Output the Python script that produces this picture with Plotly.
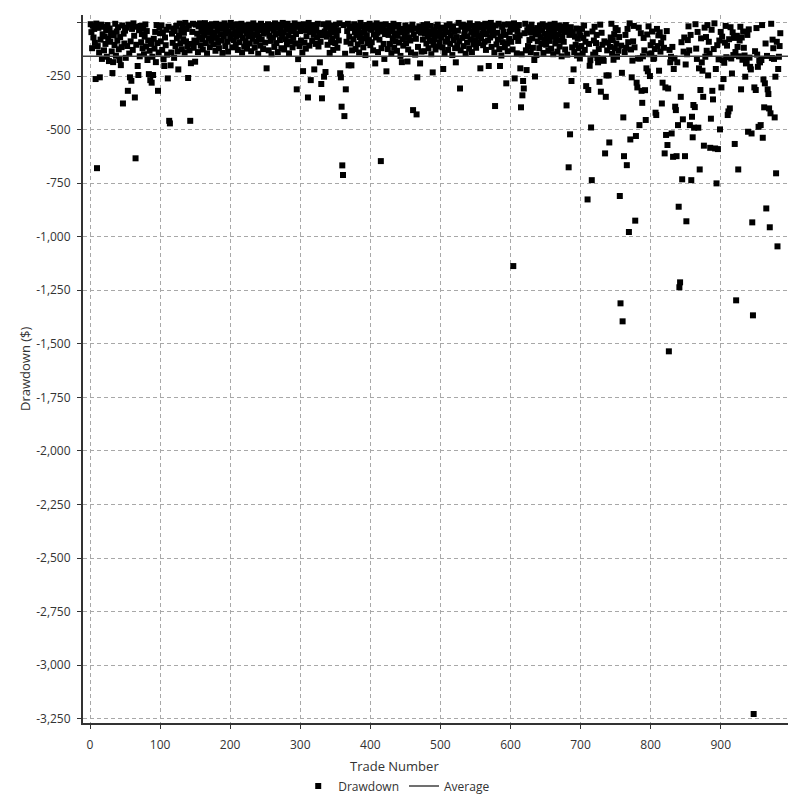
import plotly.graph_objects as go

# Baseline drawdown per trade (trades 1..985), read row by row (25 trades per row)
BAND = [
    -8,-45,-120,-15,-70,-30,-95,-150,-5,-60,-110,-25,-140,-40,-80,-10,-170,-55,-20,-130,-65,-100,-35,-160,-12,
    -75,-180,-28,-90,-50,-135,-18,-185,-60,-105,-6,-155,-42,-85,-22,-125,-175,-68,-32,-115,-14,-190,-52,-98,-38,
    -165,-24,-110,-72,-10,-145,-56,-88,-180,-30,-128,-4,-62,-170,-46,-104,-20,-138,-78,-36,-158,-16,-92,-54,-120,
    -26,-148,-66,-9,-112,-40,-175,-84,-18,-132,-58,-100,-30,-160,-7,-76,-122,-44,-185,-12,-96,-64,-140,-22,-50,
    -88,-14,-128,-46,-172,-3,-70,-106,-34,-150,-60,-20,-118,-82,-8,-140,-52,-95,-28,-165,-40,-110,-16,-74,-135,
    -20,-62,-5,-98,-36,-125,-12,-78,-48,-140,-2,-88,-30,-112,-56,-15,-130,-70,-24,-100,-44,-6,-118,-84,-32,
    -10,-92,-52,-138,-18,-68,-4,-108,-40,-80,-126,-22,-58,-3,-96,-34,-144,-12,-74,-48,-115,-28,-86,-8,-60,
    -102,-16,-46,-132,-6,-72,-38,-94,-120,-26,-56,-10,-84,-142,-30,-64,-4,-110,-50,-18,-90,-136,-42,-14,-76,
    -2,-54,-116,-24,-82,-12,-46,-104,-66,-8,-128,-34,-92,-58,-20,-6,-140,-72,-38,-112,-14,-88,-50,-122,-28,
    -64,-10,-98,-40,-134,-22,-76,-4,-58,-118,-30,-90,-14,-48,-146,-68,-26,-108,-6,-80,-36,-124,-52,-16,-94,
    -18,-106,-44,-8,-130,-62,-28,-86,-148,-12,-70,-38,-114,-4,-56,-96,-24,-138,-50,-10,-82,-32,-120,-66,-2,
    -46,-126,-14,-78,-34,-102,-6,-60,-144,-24,-88,-42,-16,-116,-72,-30,-4,-98,-54,-132,-20,-68,-10,-110,-40,
    -84,-26,-140,-52,-8,-94,-36,-122,-64,-18,-76,-2,-108,-44,-150,-28,-86,-12,-58,-126,-38,-100,-22,-70,-6,
    -112,-48,-16,-90,-30,-136,-60,-8,-80,-42,-120,-20,-66,-104,-4,-54,-142,-34,-92,-14,-74,-128,-46,-24,-96,
    -10,-62,-118,-36,-84,-4,-50,-134,-22,-72,-104,-12,-56,-146,-30,-90,-40,-6,-114,-66,-18,-98,-52,-130,-26,
    -78,-8,-44,-124,-58,-16,-102,-32,-140,-68,-2,-88,-48,-20,-116,-74,-38,-152,-12,-60,-96,-28,-82,-6,-106,
    -34,-92,-14,-130,-56,-24,-110,-70,-4,-48,-138,-30,-80,-10,-64,-120,-42,-18,-100,-146,-54,-8,-86,-36,-124,
    -58,-16,-100,-40,-144,-26,-74,-6,-118,-50,-88,-20,-132,-62,-12,-94,-36,-156,-46,-4,-78,-108,-30,-68,-14,
    -96,-44,-6,-126,-70,-22,-84,-140,-34,-10,-106,-56,-28,-150,-76,-2,-60,-114,-40,-18,-92,-48,-136,-24,-80,
    -12,-134,-52,-30,-98,-8,-66,-120,-42,-86,-16,-148,-58,-4,-104,-36,-78,-126,-20,-62,-10,-112,-46,-94,-28,
    -70,-24,-116,-4,-54,-142,-36,-90,-14,-76,-128,-46,-8,-100,-60,-32,-152,-18,-82,-42,-120,-6,-68,-108,-38,
    -2,-88,-48,-130,-20,-72,-10,-110,-56,-34,-146,-14,-94,-64,-26,-122,-4,-80,-44,-138,-16,-102,-58,-30,-84,
    -118,-40,-8,-96,-62,-22,-136,-74,-12,-50,-106,-32,-90,-6,-128,-54,-18,-84,-150,-38,-70,-2,-114,-46,-26,
    -60,-140,-30,-14,-102,-48,-80,-6,-124,-36,-66,-154,-20,-92,-42,-10,-116,-58,-28,-98,-134,-8,-76,-44,-18,
    -90,-32,-126,-54,-4,-112,-68,-24,-144,-40,-86,-12,-60,-104,-30,-148,-72,-16,-96,-50,-6,-130,-64,-36,-110,
    -22,-82,-46,-138,-10,-74,-118,-34,-2,-94,-56,-152,-26,-88,-44,-120,-14,-68,-100,-38,-8,-142,-78,-52,-16,
    -104,-60,-20,-132,-42,-86,-10,-122,-66,-30,-148,-50,-6,-98,-74,-28,-136,-56,-14,-112,-84,-38,-158,-64,-18,
    -90,-44,-126,-12,-70,-150,-34,-100,-58,-162,-22,-80,-116,-46,-8,-138,-66,-104,-28,-154,-76,-120,-40,-168,-60,
    -110,-30,-146,-72,-14,-128,-90,-160,-52,-24,-136,-100,-8,-176,-64,-118,-42,-150,-84,-20,-140,-96,-58,-166,-34,
    -124,-76,-10,-152,-48,-104,-170,-28,-88,-140,-60,-16,-130,-94,-158,-40,-114,-70,-6,-146,-82,-174,-54,-120,-26,
    -98,-160,-36,-132,-68,-12,-150,-108,-44,-172,-80,-20,-138,-58,-118,-164,-30,-92,-146,-4,-74,-126,-52,-178,-88,
    -16,-116,-62,-154,-38,-100,-168,-24,-84,-142,-50,-112,-8,-158,-72,-130,-34,-96,-176,-56,-120,-18,-148,-66,-106,
    -144,-42,-92,-170,-14,-124,-78,-156,-30,-110,-60,-180,-46,-136,-96,-22,-162,-70,-118,-10,-150,-86,-40,-134,-166,
    -54,-128,-6,-160,-88,-114,-36,-174,-62,-140,-20,-102,-152,-76,-30,-168,-120,-48,-92,-158,-12,-136,-70,-110,-184,
    -40,-148,-82,-18,-130,-164,-58,-104,-26,-176,-96,-142,-64,-8,-122,-170,-44,-88,-154,-32,-116,-74,-186,-52,-138,
    -100,-24,-160,-68,-132,-12,-178,-90,-146,-50,-112,-34,-166,-80,-124,-4,-156,-60,-140,-106,-28,-172,-84,-150,-44,
    -120,-66,-176,-36,-144,-94,-16,-162,-108,-56,-182,-78,-130,-22,-168,-102,-46,-152,-72,-10,-138,-188,-62,-114,-30,
    -158,-84,-20,-136,-70,-174,-42,-118,-154,-8,-96,-180,-58,-126,-32,-164,-110,-48,-146,-76,-14,-170,-92,-134,-52,
    -26,-150,-104,-60,-178,-38,-128,-162,-12,-88,-140,-54,-172,-98,-24,-156,-116,-68,-186,-44,-132,-6,-166,-80,-120,
    -64,-142,-18,-170,-90,-124,-36,-160,-110,-50,-176,-14,-130,-76,-152,-30,-100,-168,-58,-144,-22,-118,-84,-190,-40,
]
N_TRADES = 985

# Deeper drawdowns: trade number -> drawdown ($)
OUTLIER_TRADES = [
    8, 10, 14, 32, 44, 47, 54, 57, 59, 64, 65, 68, 69, 84, 86, 88, 90, 97, 106, 111, 113, 114, 115, 126, 140, 143, 144, 150,
    252, 295, 297, 304, 311, 315, 320, 328, 330, 331, 334, 336, 357, 358, 359, 360, 361, 363, 365, 369, 373,
    407, 415, 420, 423, 445, 453, 461, 466, 467, 471, 489, 504, 522, 528, 557, 569, 578, 585, 594,
    604, 606, 614, 615, 617, 618, 619, 623, 634, 635, 680, 683, 685, 687, 690,
    708, 710, 711, 713, 715, 716, 725, 727, 729, 733, 735, 736, 737, 740, 741, 756, 757, 759, 760, 761, 762, 766, 769,
    771, 773, 778, 779, 780, 781, 784, 785, 787, 788, 792, 793, 794, 796, 799,
    805, 807, 808, 812, 816, 817, 820, 821, 822, 824, 825, 826, 828, 830, 832, 833, 834, 835, 836, 837, 838, 839, 840,
    841, 842, 843, 845, 846, 849, 850, 851, 856, 858, 859, 860, 861, 862, 863, 868, 869, 870, 871, 874, 875, 876,
    882, 885, 886, 888, 889, 892, 893, 894, 896, 899,
    901, 904, 905, 910, 911, 913, 916, 920, 922, 925, 929, 935, 936, 939, 942, 943, 944, 945, 946, 947, 948, 950,
    953, 954, 956, 957, 958, 960, 961, 962, 963, 965, 967, 968, 969, 970, 971, 976, 977, 978, 979, 981, 982,
]
OUTLIER_VALUES = [
    -264, -680, -256, -236, -199, -378, -319, -256, -272, -350, -634, -203, -245, -241, -269, -281, -245, -319, -203, -261, -459, -471, -200, -219, -259, -459, -190, -183,
    -214, -312, -171, -227, -350, -269, -219, -186, -287, -354, -253, -231, -237, -256, -393, -667, -712, -437, -312, -200, -200,
    -191, -647, -170, -228, -185, -182, -409, -429, -256, -191, -233, -217, -186, -308, -214, -203, -390, -203, -284,
    -1137, -261, -214, -396, -340, -273, -308, -222, -175, -252, -387, -676, -522, -273, -219,
    -297, -826, -315, -202, -490, -736, -186, -277, -323, -179, -611, -347, -247, -247, -560, -810, -1311, -235, -1395, -443, -624, -666, -978,
    -546, -256, -925, -530, -281, -303, -479, -168, -319, -375, -316, -455, -214, -228, -250,
    -165, -421, -432, -225, -378, -281, -611, -303, -525, -572, -308, -1535, -186, -518, -627, -217, -168, -393, -409, -624, -186, -479, -860,
    -1236, -1213, -347, -732, -452, -624, -196, -928, -479, -736, -440, -536, -385, -491, -395, -491, -214, -686, -315, -225, -347, -575,
    -247, -585, -449, -319, -359, -588, -217, -751, -591, -499,
    -303, -264, -188, -432, -415, -401, -238, -567, -1297, -686, -312, -253, -191, -510, -207, -219, -518, -933, -1367, -3228, -303, -315,
    -207, -487, -186, -479, -175, -538, -266, -396, -284, -868, -312, -334, -401, -956, -424, -170, -443, -253, -704, -1045, -217,
]

AVERAGE = -157

Y_TICKS = [0, -250, -500, -750, -1000, -1250, -1500, -1750, -2000, -2250, -2500, -2750, -3000, -3250]
Y_TICK_TEXT = ["", "-250", "-500", "-750", "-1,000", "-1,250", "-1,500", "-1,750", "-2,000",
               "-2,250", "-2,500", "-2,750", "-3,000", "-3,250"]
X_TICKS = [0, 100, 200, 300, 400, 500, 600, 700, 800, 900]

trades = list(range(1, N_TRADES + 1))
drawdown = list(BAND[:N_TRADES])
for t, v in zip(OUTLIER_TRADES, OUTLIER_VALUES):
    drawdown[t - 1] = v

X_RANGE = [-10, 996]
Y_RANGE = [-3270, 35]

FONT = "Open Sans, Noto Sans, sans-serif"
TXT = "#333333"
GRID = "#a8a8a8"

fig = go.Figure()
fig.add_trace(go.Scatter(
    x=trades, y=drawdown, mode="markers", name="Drawdown",
    marker=dict(symbol="square", size=6, color="#000000", line=dict(width=0)),
))
fig.add_trace(go.Scatter(
    x=X_RANGE, y=[AVERAGE, AVERAGE], mode="lines", name="Average",
    line=dict(color="#404040", width=1.5),
))

fig.update_layout(
    width=802, height=801,
    margin=dict(l=83, r=14, t=15, b=78, autoexpand=False),
    paper_bgcolor="white", plot_bgcolor="white",
    font=dict(family=FONT, size=12, color=TXT),
    showlegend=True,
    legend=dict(orientation="h", x=0.445, xanchor="center", y=-0.089, yanchor="middle",
                font=dict(size=12, color=TXT), itemwidth=30, tracegroupgap=0,
                bgcolor="rgba(0,0,0,0)"),
    xaxis=dict(
        range=X_RANGE, tickvals=X_TICKS, ticktext=[str(v) for v in X_TICKS],
        showgrid=True, gridcolor=GRID, griddash="4px,3px", gridwidth=1,
        showline=True, linecolor="#333333", linewidth=2, mirror=False,
        ticks="outside", ticklen=4, tickcolor="#333333", ticklabelstandoff=6,
        zeroline=False, tickfont=dict(size=12, color=TXT), automargin=False,
    ),
    yaxis=dict(
        range=Y_RANGE, tickvals=Y_TICKS, ticktext=Y_TICK_TEXT,
        showgrid=True, gridcolor=GRID, griddash="4px,3px", gridwidth=1,
        showline=True, linecolor="#333333", linewidth=2,
        ticks="outside", ticklen=4, tickcolor="#333333", ticklabelstandoff=4,
        zeroline=False, tickfont=dict(size=12, color=TXT), automargin=False,
    ),
    annotations=[
        dict(text="Trade Number", xref="paper", yref="paper", x=(394 - 83) / 705, y=(723 - 766) / 708,
             xanchor="center", yanchor="middle", showarrow=False, font=dict(size=13, color=TXT)),
        dict(text="Drawdown ($)", xref="paper", yref="paper", x=(25 - 83) / 705, y=0.5,
             xanchor="center", yanchor="middle", textangle=-90, showarrow=False,
             font=dict(size=13, color=TXT)),
    ],
)

fig.write_html(
    "out.html",
    config={"displayModeBar": False},
    post_script="document.body.style.margin='0';document.body.style.padding='0';document.body.style.overflow='hidden';",
)
